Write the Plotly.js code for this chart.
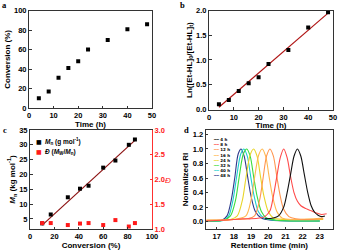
<!DOCTYPE html>
<html><head><meta charset="utf-8">
<script src="https://cdn.plot.ly/plotly-3.0.1.min.js"></script>
<style>html,body{margin:0;padding:0;background:#fff}#chart{width:339px;height:251px}</style>
</head><body><div id="chart"></div>
<script>
// Panel a / b
const timeH = [4, 8, 12, 16, 20, 24, 32, 40, 48];
const conversion = [10, 17, 31, 41, 48, 60, 70, 81, 86];
const lnRatio = [0.10, 0.19, 0.37, 0.53, 0.65, 0.92, 1.20, 1.66, 1.97];
const fitTime = [4, 48];
const fitLn = [0.04, 1.95];
// Panel c
const convC = [10, 17, 31, 41, 48, 60, 70, 81, 86];
const mnKg = [3.5, 6.5, 12.3, 15.2, 16.2, 22.3, 24.7, 30.0, 31.8];
const dispersity = [1.12, 1.12, 1.08, 1.11, 1.12, 1.08, 1.18, 1.05, 1.12];
const fitConv = [10, 86];
const fitMn = [2.9, 31.5];
// Panel d (SEC traces)
const secLabels = ['4 h', '8 h', '12 h', '16 h', '24 h', '32 h', '40 h', '48 h'];
const secColors = ['#111111', '#FF4A4A', '#FF9650', '#FFB850', '#E8D52A', '#3CDC3C', '#1ECFCF', '#2E3A8C'];
const sec4hX = [19.8, 20.3, 20.6, 20.9, 21.1, 21.3, 21.5, 21.7, 21.9, 22.1, 22.3, 22.5, 22.7, 22.9, 23.1, 23.3];
const sec4hY = [0.04, 0.05, 0.08, 0.20, 0.40, 0.65, 0.90, 1.00, 0.90, 0.65, 0.40, 0.22, 0.13, 0.09, 0.07, 0.08];
const sec8hX = [16.4, 17.3, 18.0, 18.5, 19.0, 19.5, 19.8, 20.1, 20.3, 20.5, 20.7, 20.9, 21.1, 21.3, 21.5, 21.7, 21.9, 22.2, 22.5, 22.8, 23.1, 23.4];
const sec8hY = [0.01, 0.02, 0.03, 0.04, 0.04, 0.05, 0.07, 0.15, 0.35, 0.62, 0.88, 1.00, 0.88, 0.62, 0.40, 0.28, 0.22, 0.18, 0.15, 0.12, 0.10, 0.11];
const sec12hX = [16.4, 18.0, 18.8, 19.2, 19.5, 19.7, 19.9, 20.1, 20.3, 20.5, 20.7, 20.9, 21.2, 21.6, 22.5, 23.2];
const sec12hY = [0.02, 0.03, 0.04, 0.08, 0.30, 0.60, 0.90, 1.00, 0.90, 0.62, 0.35, 0.17, 0.07, 0.04, 0.03, 0.04];
const sec16hX = [16.4, 18.0, 18.7, 19.0, 19.2, 19.45, 19.65, 19.85, 20.05, 20.25, 20.5, 20.8, 21.5, 23.2];
const sec16hY = [0.02, 0.03, 0.08, 0.30, 0.60, 0.92, 1.00, 0.90, 0.62, 0.35, 0.14, 0.05, 0.03, 0.05];
const sec24hX = [16.4, 17.8, 18.2, 18.5, 18.7, 18.95, 19.15, 19.35, 19.55, 19.75, 20.0, 20.3, 21.0, 23.2];
const sec24hY = [0.02, 0.03, 0.08, 0.30, 0.60, 0.92, 1.00, 0.90, 0.62, 0.35, 0.14, 0.05, 0.03, 0.03];
const sec32hX = [16.4, 17.4, 17.8, 18.1, 18.3, 18.55, 18.75, 18.95, 19.15, 19.35, 19.6, 19.9, 20.5, 23.0];
const sec32hY = [0.01, 0.02, 0.08, 0.30, 0.60, 0.93, 1.00, 0.90, 0.62, 0.35, 0.14, 0.05, 0.02, 0.01];
const sec40hX = [16.4, 17.4, 17.7, 17.95, 18.15, 18.4, 18.58, 18.78, 18.98, 19.18, 19.42, 19.75, 20.4, 23.0];
const sec40hY = [0.01, 0.02, 0.08, 0.30, 0.60, 0.93, 1.00, 0.90, 0.62, 0.35, 0.14, 0.05, 0.02, 0.01];
const sec48hX = [16.4, 17.3, 17.6, 17.85, 18.05, 18.25, 18.42, 18.6, 18.8, 19.0, 19.25, 19.6, 20.2, 23.0];
const sec48hY = [0.01, 0.02, 0.08, 0.30, 0.60, 0.93, 1.00, 0.90, 0.62, 0.35, 0.14, 0.05, 0.02, 0.01];
const secX = [sec4hX, sec8hX, sec12hX, sec16hX, sec24hX, sec32hX, sec40hX, sec48hX];
const secY = [sec4hY, sec8hY, sec12hY, sec16hY, sec24hY, sec32hY, sec40hY, sec48hY];

const W = 339, H = 251;
const FF = 'Liberation Sans, Arial, sans-serif';
const px = v => v / W;
const py = v => 1 - v / H;
const it = (t, s) => '<span style="font-style:italic;font-size:' + s + 'px">' + t + '</span>';

const traces = [];
traces.push({x: timeH, y: conversion, xaxis: 'x', yaxis: 'y', mode: 'markers', type: 'scatter',
  marker: {symbol: 'square', size: 4, color: '#000'}, showlegend: false});
traces.push({x: fitTime, y: fitLn, xaxis: 'x2', yaxis: 'y2', mode: 'lines', type: 'scatter',
  line: {color: '#B01515', width: 1.2}, showlegend: false});
traces.push({x: timeH, y: lnRatio, xaxis: 'x2', yaxis: 'y2', mode: 'markers', type: 'scatter',
  marker: {symbol: 'square', size: 4, color: '#000'}, showlegend: false});
traces.push({x: fitConv, y: fitMn, xaxis: 'x3', yaxis: 'y3', mode: 'lines', type: 'scatter',
  line: {color: '#8B1010', width: 1.2}, showlegend: false});
traces.push({x: convC, y: mnKg, xaxis: 'x3', yaxis: 'y3', mode: 'markers', type: 'scatter',
  marker: {symbol: 'square', size: 4, color: '#000'}, showlegend: false});
traces.push({x: convC, y: dispersity, xaxis: 'x3', yaxis: 'y4', mode: 'markers', type: 'scatter',
  marker: {symbol: 'square', size: 4, color: '#FF1A1A'}, showlegend: false});
for (let i = secLabels.length - 1; i >= 0; i--) {
  traces.push({x: secX[i], y: secY[i], xaxis: 'x4', yaxis: 'y5', mode: 'lines', type: 'scatter',
    line: {color: secColors[i], width: 1.1, shape: 'spline', smoothing: 0.8}, name: secLabels[i], showlegend: false});
}

const tf = {family: FF, size: 7.5, color: '#000', weight: 'bold'};
const tif = {family: FF, size: 8, color: '#000', weight: 'bold'};
function ax(extra) {
  return Object.assign({showline: true, linecolor: '#333', linewidth: 1, mirror: true, ticks: 'inside',
    ticklen: 2.5, tickwidth: 1, tickcolor: '#333', showgrid: false, zeroline: false, tickfont: tf,
    automargin: false}, extra);
}

const layout = {
  width: W, height: H, margin: {l: 0, r: 0, t: 0, b: 0}, paper_bgcolor: '#fff', plot_bgcolor: '#fff',
  font: {family: FF, color: '#000'}, showlegend: false,
  xaxis: ax({domain: [px(29), px(152)], anchor: 'y', range: [0, 50], dtick: 10,
    title: {text: 'Time (h)', font: tif, standoff: 0}}),
  yaxis: ax({domain: [py(108), py(10.7)], anchor: 'x', range: [0, 100], dtick: 20,
    title: {text: 'Conversion (%)', font: tif, standoff: 2}}),
  xaxis2: ax({domain: [px(209), px(333)], anchor: 'y2', range: [0, 50], dtick: 10,
    title: {text: 'Time (h)', font: tif, standoff: 0}}),
  yaxis2: ax({domain: [py(109.5), py(10.7)], anchor: 'x2', range: [-0.005, 2.0], dtick: 0.5, tickformat: '.1f',
    title: {text: 'Ln([Et-HL]<sub>0</sub>/[Et-HL]<sub>t</sub>)', font: tif, standoff: 2}}),
  xaxis3: ax({domain: [px(30), px(152)], anchor: 'y3', range: [0, 100], dtick: 20,
    title: {text: 'Conversion (%)', font: tif, standoff: 1}}),
  yaxis3: ax({domain: [py(229), py(130)], anchor: 'x3', range: [1.6, 35], tickvals: [5, 10, 15, 20, 25, 30, 35], mirror: false,
    title: {text: it('M', 8) + '<sub>n</sub> (kg mol<sup>-1</sup>)', font: tif, standoff: 2}}),
  yaxis4: ax({overlaying: 'y3', anchor: 'x3', side: 'right', range: [1.0, 3.0], dtick: 0.5, tickformat: '.1f',
    linecolor: '#FF3030', tickcolor: '#FF3030', mirror: false,
    tickfont: {family: FF, size: 7.5, color: '#FF2020', weight: 'bold'}}),
  xaxis4: ax({domain: [px(205.7), px(333)], anchor: 'y5', range: [16.36, 23.77], tickvals: [17, 18, 19, 20, 21, 22, 23],
    title: {text: 'Retention time (min)', font: tif, standoff: 1}}),
  yaxis5: ax({domain: [py(229), py(130)], anchor: 'x4', range: [-0.1, 1.26], tickvals: [0, 0.2, 0.4, 0.6, 0.8, 1.0, 1.2], tickformat: '.1f',
    title: {text: 'Normalized RI', font: tif, standoff: 2}}),
  annotations: []
};

const letterFont = {family: 'Liberation Serif, Times New Roman, serif', size: 8.5, color: '#000', weight: 'bold'};
[['a', 4.5, 5], ['b', 183, 5], ['c', 4.5, 130], ['d', 186, 130]].forEach(([t, x, y]) => {
  layout.annotations.push({text: t, xref: 'paper', yref: 'paper', x: px(x), y: py(y), xanchor: 'center', yanchor: 'middle',
    showarrow: false, font: letterFont});
});
// Đ label on right axis of c
layout.annotations.push({text: 'Đ', xref: 'paper', yref: 'paper', x: px(168), y: py(180), xanchor: 'center', yanchor: 'middle',
  showarrow: false, font: {family: FF, size: 8, color: '#FF2020', style: 'italic'}});
// Legend for panel c
const legC = [['#000', it('M', 6.5) + '<sub>n</sub> (g mol<sup>-1</sup>)', 141],
              ['#FF1A1A', it('Đ', 6.5) + ' (' + it('M', 6.5) + '<sub>W</sub>/' + it('M', 6.5) + '<sub>n</sub>)', 151.5]];
legC.forEach(([c, t, y]) => {
  layout.annotations.push({text: '■', xref: 'paper', yref: 'paper', x: px(39.3), y: py(y),
    xanchor: 'center', yanchor: 'middle', showarrow: false, font: {family: 'DejaVu Sans', size: 6, color: c}});
  layout.annotations.push({text: t, xref: 'paper', yref: 'paper', x: px(43), y: py(y), xanchor: 'left', yanchor: 'middle',
    showarrow: false, font: {family: FF, size: 6.5, color: '#000', weight: 'bold'}});
});
// Legend for panel d (one block, one line per trace)
const legDText = secLabels.map((lab, i) =>
  '<span style="color:' + secColors[i] + '">━━</span> ' + lab).join('<br>');
layout.annotations.push({text: legDText, xref: 'paper', yref: 'paper', x: px(211), y: py(135.3),
  xanchor: 'left', yanchor: 'top', align: 'left', showarrow: false,
  font: {family: 'DejaVu Sans', size: 4, color: '#000', weight: 'bold'}});

Plotly.newPlot('chart', traces, layout, {staticPlot: true, displayModeBar: false});
</script></body></html>
